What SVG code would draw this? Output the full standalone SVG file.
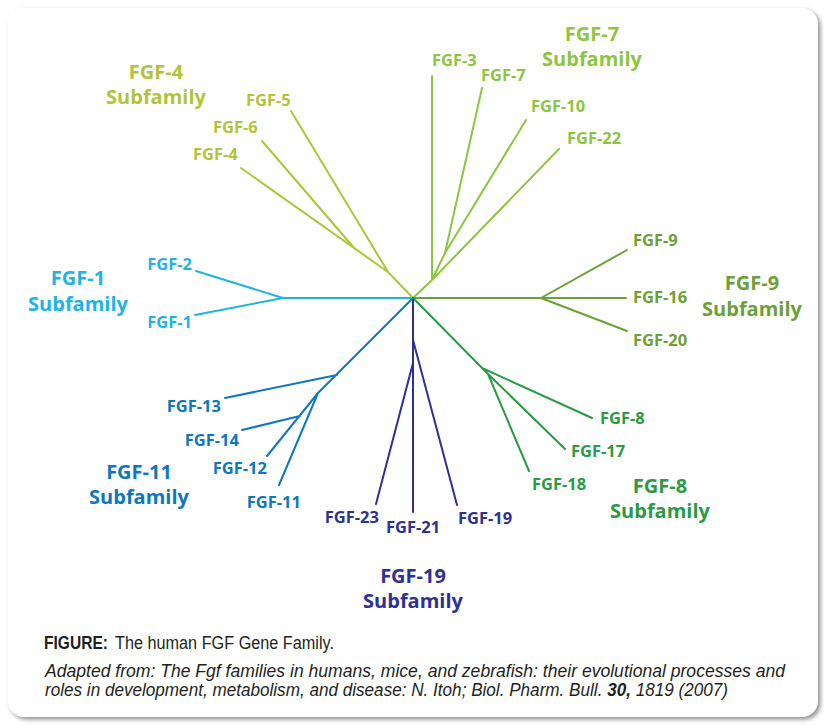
<svg xmlns="http://www.w3.org/2000/svg" width="824" height="727" viewBox="0 0 824 727">
<defs>
<filter id="sh" x="-5%" y="-5%" width="110%" height="110%">
<feDropShadow dx="2.5" dy="2.5" stdDeviation="2" flood-color="#777" flood-opacity="0.8"/>
</filter>
<style>
.lbl{font-family:"Open Sans","Noto Sans",sans-serif;font-weight:700;font-size:16.5px}
.big{font-family:"Open Sans","Noto Sans",sans-serif;font-weight:700;font-size:20px;text-anchor:middle}
.cap{font-family:"Liberation Sans",Arial,sans-serif;font-size:17.5px;fill:#231f20}
.ln{fill:none;stroke-width:2;stroke-linecap:round;stroke-linejoin:round}
.f1{fill:#22b3e6}.f4{fill:#b0c43a}.f7{fill:#8cc63f}.f9{fill:#6ba137}.f8{fill:#2b9a45}.f19{fill:#2e3192}.f11{fill:#0f77bd}
</style>
</defs>
<rect x="0" y="0" width="824" height="727" fill="#ffffff"/>
<rect id="card" x="8" y="8" width="810" height="709" rx="16" fill="#ffffff" filter="url(#sh)"/>

<g id="connectors">
<path class="ln" stroke="#22b3e6" d="M413,298 H283 M283,298 L196,271 M283,298 L195,315"/>
<path class="ln" stroke="#b0c43a" d="M413,298 L388,272 L291,111 M388,272 L241,168 M355,249 L262,141"/>
<path class="ln" stroke="#8cc63f" d="M413,298 L432,280 V76 M432,280 L559,149 M432,280 L445,253 L482,88 M445,253 L526,120"/>
<path class="ln" stroke="#6ba137" d="M413,298 H541 M541,298 L627,250 M541,298 H626 M541,298 L627,331"/>
<path class="ln" stroke="#2b9a45" d="M413,298 L488,374 M482,368 L592,418 M488,374 L565,449 M488,374 L529,471"/>
<path class="ln" stroke="#2e3192" d="M413,298 V512 M413,340 L457,505 M413,363 L376,504"/>
<path class="ln" stroke="#0f77bd" d="M413,298 L318,393 M337,375 L225,398 M318,393 L279,485 M318,393 L267,456 M300,416 L242,430"/>
</g>

<g id="fgf1-subfamily">
<g id="fgf-2"><text class="lbl f1" x="192" y="270" text-anchor="end">FGF-2</text></g>
<g id="fgf-1"><text class="lbl f1" x="192" y="328" text-anchor="end">FGF-1</text></g>
<g id="fgf1-title"><text class="big f1" x="78" y="285">FGF-1</text><text class="big f1" x="78" y="311">Subfamily</text></g>
</g>

<g id="fgf4-subfamily">
<g id="fgf-5"><text class="lbl f4" x="246" y="106">FGF-5</text></g>
<g id="fgf-6"><text class="lbl f4" x="213" y="133">FGF-6</text></g>
<g id="fgf-4"><text class="lbl f4" x="193" y="160">FGF-4</text></g>
<g id="fgf4-title"><text class="big f4" x="156" y="79">FGF-4</text><text class="big f4" x="156" y="104">Subfamily</text></g>
</g>

<g id="fgf7-subfamily">
<g id="fgf-3"><text class="lbl f7" x="432" y="66">FGF-3</text></g>
<g id="fgf-7"><text class="lbl f7" x="481" y="81">FGF-7</text></g>
<g id="fgf-10"><text class="lbl f7" x="531" y="112">FGF-10</text></g>
<g id="fgf-22"><text class="lbl f7" x="567" y="144">FGF-22</text></g>
<g id="fgf7-title"><text class="big f7" x="592" y="41">FGF-7</text><text class="big f7" x="592" y="66">Subfamily</text></g>
</g>

<g id="fgf9-subfamily">
<g id="fgf-9"><text class="lbl f9" x="633" y="246">FGF-9</text></g>
<g id="fgf-16"><text class="lbl f9" x="633" y="303">FGF-16</text></g>
<g id="fgf-20"><text class="lbl f9" x="633" y="346">FGF-20</text></g>
<g id="fgf9-title"><text class="big f9" x="752" y="290">FGF-9</text><text class="big f9" x="752" y="316">Subfamily</text></g>
</g>

<g id="fgf8-subfamily">
<g id="fgf-8"><text class="lbl f8" x="600" y="424">FGF-8</text></g>
<g id="fgf-17"><text class="lbl f8" x="571" y="457">FGF-17</text></g>
<g id="fgf-18"><text class="lbl f8" x="532" y="490">FGF-18</text></g>
<g id="fgf8-title"><text class="big f8" x="660" y="493">FGF-8</text><text class="big f8" x="660" y="518">Subfamily</text></g>
</g>

<g id="fgf19-subfamily">
<g id="fgf-23"><text class="lbl f19" x="379" y="523" text-anchor="end">FGF-23</text></g>
<g id="fgf-21"><text class="lbl f19" x="413" y="533" text-anchor="middle">FGF-21</text></g>
<g id="fgf-19"><text class="lbl f19" x="458" y="524">FGF-19</text></g>
<g id="fgf19-title"><text class="big f19" x="413" y="583">FGF-19</text><text class="big f19" x="413" y="608">Subfamily</text></g>
</g>

<g id="fgf11-subfamily">
<g id="fgf-13"><text class="lbl f11" x="221" y="412" text-anchor="end">FGF-13</text></g>
<g id="fgf-14"><text class="lbl f11" x="239" y="446" text-anchor="end">FGF-14</text></g>
<g id="fgf-12"><text class="lbl f11" x="267" y="474" text-anchor="end">FGF-12</text></g>
<g id="fgf-11"><text class="lbl f11" x="301" y="508" text-anchor="end">FGF-11</text></g>
<g id="fgf11-title"><text class="big f11" x="139" y="479">FGF-11</text><text class="big f11" x="139" y="504">Subfamily</text></g>
</g>

<g id="caption">
<text class="cap" x="44" y="649" font-size="20" font-weight="700" textLength="64" lengthAdjust="spacingAndGlyphs">FIGURE:</text>
<text class="cap" x="115" y="649" font-size="20" textLength="219" lengthAdjust="spacingAndGlyphs">The human FGF Gene Family.</text>
<text class="cap" x="45" y="677" font-style="italic" textLength="740" lengthAdjust="spacingAndGlyphs">Adapted from: The Fgf families in humans, mice, and zebrafish: their evolutional processes and</text>
<text class="cap" x="45" y="696" font-style="italic" textLength="683" lengthAdjust="spacingAndGlyphs">roles in development, metabolism, and disease: N. Itoh; Biol. Pharm. Bull. <tspan font-weight="700">30,</tspan> 1819 (2007)</text>
</g>
</svg>
